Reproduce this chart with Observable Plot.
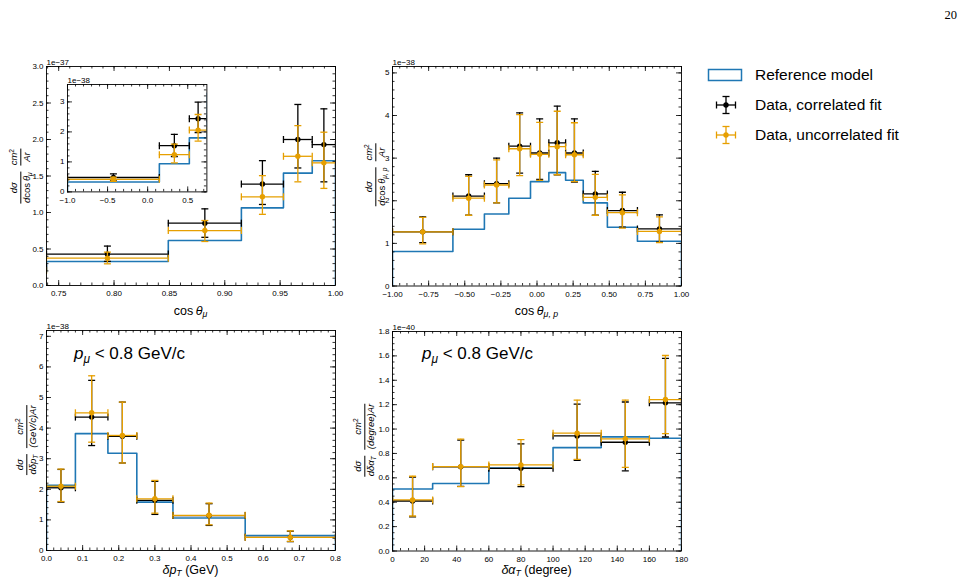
<!DOCTYPE html>
<html>
<head>
<meta charset="utf-8">
<script src="https://cdn.jsdelivr.net/npm/d3@7"></script>
<script src="https://cdn.jsdelivr.net/npm/@observablehq/plot@0.6"></script>
<style>
  html, body { margin: 0; padding: 0; background: #fff; }
  #fig { position: relative; width: 973px; height: 586px; overflow: hidden;
         font-family: "Liberation Sans", Arial, Helvetica, sans-serif; color: #000; }
  #fig svg { position: absolute; }
  .lbl { position: absolute; white-space: nowrap; line-height: 1; }
  .ctr { transform: translate(-50%, -50%); }
  .rot { position: absolute; white-space: nowrap; display: flex; align-items: center; width: max-content;
         transform: translate(-50%, -50%) rotate(-90deg); }
  .frac { display: inline-flex; flex: none; flex-direction: column; align-items: center; margin: 0 3px;
          font-size: 9.5px; line-height: 1.1; }
  .frac > span { flex: none; white-space: nowrap; padding: 0 0.5px; }
  .frac .bar { align-self: stretch; border-top: 0.9px solid #000; margin: 0.5px 0 1px 0; padding: 0; }
  sub { font-size: 0.7em; vertical-align: -0.3em; line-height: 0; }
  sup { font-size: 0.7em; vertical-align: 0.5em; line-height: 0; }
  .leg { position: absolute; left: 755px; font-size: 15.5px; line-height: 1; transform: translateY(-50%); white-space: nowrap; }
  .page { position: absolute; font-family: "Liberation Serif", "DejaVu Serif", serif; font-size: 12.5px; }
</style>
</head>
<body>
<div id="fig"></div>
<script>
// ---- cos θμ, units of 1e-38 cm²/Ar ----
const cosMuEdges    = [-1, 0.146, 0.52, 0.739, 0.849, 0.915, 0.953, 0.979, 1.0];
const cosMuModel    = [0.33, 0.94, 1.80, 3.29, 6.16, 10.64, 15.39, 17.08];
const cosMuCorr     = [0.48, 1.54, 2.44, 4.30, 8.54, 13.90, 20.00, 19.30];
const cosMuCorrLo   = [0.09, 0.36, 0.46, 1.00, 1.94, 2.80, 3.90, 5.10];
const cosMuCorrHi   = [0.12, 0.38, 0.55, 1.10, 1.96, 3.20, 4.80, 4.90];
const cosMuUnc      = [0.42, 1.24, 2.06, 3.74, 7.53, 12.15, 17.70, 16.80];
const cosMuUncLo    = [0.07, 0.27, 0.37, 0.77, 1.50, 2.40, 3.50, 3.50];
const cosMuUncHi    = [0.07, 0.35, 0.52, 0.83, 1.37, 2.90, 4.20, 4.20];

// ---- cos θμ,p, units of 1e-38 cm²/Ar ----
const cosMuPEdges   = [-1, -0.582, -0.364, -0.195, -0.045, 0.082, 0.198, 0.32, 0.487, 0.695, 1.0];
const cosMuPModel   = [0.81, 1.33, 1.69, 2.06, 2.45, 2.66, 2.48, 1.95, 1.38, 1.05];
const cosMuPCorr    = [1.27, 2.11, 2.40, 3.28, 3.12, 3.36, 3.12, 2.16, 1.77, 1.34];
const cosMuPCorrLo  = [0.25, 0.45, 0.45, 0.63, 0.62, 0.75, 0.68, 0.50, 0.39, 0.31];
const cosMuPCorrHi  = [0.35, 0.50, 0.60, 0.78, 0.80, 0.86, 0.80, 0.53, 0.43, 0.33];
const cosMuPUnc     = [1.27, 2.06, 2.37, 3.22, 3.09, 3.27, 3.08, 2.08, 1.72, 1.28];
const cosMuPUncLo   = [0.28, 0.40, 0.42, 0.63, 0.61, 0.66, 0.63, 0.42, 0.36, 0.26];
const cosMuPUncHi   = [0.34, 0.51, 0.59, 0.80, 0.75, 0.83, 0.75, 0.54, 0.42, 0.34];

// ---- δpT (GeV), units of 1e-38 cm²/(GeV/c)Ar ----
const dptEdges      = [0, 0.08, 0.17, 0.25, 0.35, 0.55, 0.8];
const dptModel      = [2.13, 3.82, 3.18, 1.58, 1.06, 0.49];
const dptCorr       = [2.05, 4.36, 3.73, 1.64, 1.14, 0.43];
const dptCorrLo     = [0.47, 0.93, 0.87, 0.46, 0.32, 0.14];
const dptCorrHi     = [0.60, 1.20, 1.12, 0.62, 0.39, 0.20];
const dptUnc        = [2.10, 4.50, 3.76, 1.69, 1.15, 0.43];
const dptUncLo      = [0.50, 0.96, 0.90, 0.47, 0.31, 0.13];
const dptUncHi      = [0.56, 1.21, 1.09, 0.60, 0.40, 0.21];

// ---- δαT (degree), units of 1e-40 cm²/(degree)Ar ----
const datEdges      = [0, 25, 60, 100, 130, 160, 180];
const datModel      = [0.509, 0.553, 0.681, 0.848, 0.936, 0.925];
const datCorr       = [0.410, 0.690, 0.678, 0.944, 0.892, 1.215];
const datCorrLo     = [0.130, 0.160, 0.150, 0.200, 0.235, 0.280];
const datCorrHi     = [0.197, 0.220, 0.200, 0.260, 0.330, 0.365];
const datUnc        = [0.419, 0.692, 0.706, 0.966, 0.920, 1.242];
const datUncLo      = [0.132, 0.164, 0.164, 0.214, 0.235, 0.279];
const datUncHi      = [0.194, 0.225, 0.208, 0.271, 0.317, 0.361];

const legendLabels = ["Reference model", "Data, correlated fit", "Data, uncorrelated fit"];

const BLUE = "#1f77b4", ORANGE = "#e69f00", BLACK = "#000000";
const FONT = '"Liberation Sans", Arial, Helvetica, sans-serif';
const fig = document.getElementById("fig");

const minus = s => s.replace("-", "\u2212");
const seq = (a, b, s) => d3.range(0, Math.floor((b - a) / s + 1e-9) + 1).map(i => +(a + i * s).toFixed(6));

function binned(edges, values, lo, hi) {
  return values.map((v, i) => ({
    x0: edges[i], x1: edges[i + 1], xc: (edges[i] + edges[i + 1]) / 2,
    v, lo: v - lo[i], hi: v + hi[i]
  }));
}

// outline of a step histogram, closed down to zero at both ends
function stepOutline(edges, values) {
  const pts = [{x: edges[0], y: 0}];
  values.forEach((v, i) => pts.push({x: edges[i], y: v}));
  pts.push({x: edges[edges.length - 1], y: values[values.length - 1]});
  pts.push({x: edges[edges.length - 1], y: 0});
  return pts;
}

const capH = {draw(ctx, size) { const r = Math.sqrt(size / Math.PI); ctx.moveTo(-r, 0); ctx.lineTo(r, 0); }};
const capV = {draw(ctx, size) { const r = Math.sqrt(size / Math.PI); ctx.moveTo(0, -r); ctx.lineTo(0, r); }};

function errorMarks(rows, color) {
  const s = {stroke: color, strokeWidth: 1.3, clip: true};
  const c = {...s, fill: "none", r: 3.5};
  return [
    Plot.ruleY(rows, {y: "v", x1: "x0", x2: "x1", ...s}),
    Plot.ruleX(rows, {x: "xc", y1: "lo", y2: "hi", ...s}),
    Plot.dot(rows, {x: "xc", y: "hi", symbol: capH, ...c}),
    Plot.dot(rows, {x: "xc", y: "lo", symbol: capH, ...c}),
    Plot.dot(rows, {x: "x0", y: "v", symbol: capV, ...c}),
    Plot.dot(rows, {x: "x1", y: "v", symbol: capV, ...c}),
    Plot.dot(rows, {x: "xc", y: "v", r: 2.7, fill: color, stroke: "none", clip: true})
  ];
}

function panel(cfg) {
  const {left, top, w, h, xDomain, yDomain, xMajor, xMinor, yMajor, yMinor, xFmt, yFmt,
         edges, model, corr, unc, offset, white} = cfg;
  const m = {l: 36, r: 8, t: 14, b: 18};
  const tk = {stroke: BLACK, strokeWidth: 0.8};
  const marks = [];
  if (white) marks.push(Plot.frame({fill: "white", stroke: "none"}));
  marks.push(
    Plot.line(stepOutline(edges, model), {x: "x", y: "y", curve: "step-after", stroke: BLUE, strokeWidth: 1.6, clip: true}),
    ...errorMarks(corr, BLACK),
    ...errorMarks(unc, ORANGE),
    // inward major and minor ticks on all four sides
    Plot.tickX(xMajor, {insetTop: h - 5, ...tk}),
    Plot.tickX(xMajor, {insetBottom: h - 5, ...tk}),
    Plot.tickX(xMinor, {insetTop: h - 2.5, ...tk}),
    Plot.tickX(xMinor, {insetBottom: h - 2.5, ...tk}),
    Plot.tickY(yMajor, {insetRight: w - 5, ...tk}),
    Plot.tickY(yMajor, {insetLeft: w - 5, ...tk}),
    Plot.tickY(yMinor, {insetRight: w - 2.5, ...tk}),
    Plot.tickY(yMinor, {insetLeft: w - 2.5, ...tk}),
    Plot.frame({stroke: BLACK, strokeWidth: 0.9}),
    Plot.axisX(xMajor, {tickSize: 0, tickPadding: 5, tickFormat: xFmt, label: null}),
    Plot.axisY(yMajor, {tickSize: 0, tickPadding: 3, tickFormat: yFmt, label: null}),
    Plot.text([offset], {text: d => d, frameAnchor: "top-left", lineAnchor: "bottom", textAnchor: "start", dy: -1.5, fontSize: 8})
  );
  const chart = Plot.plot({
    width: w + m.l + m.r, height: h + m.t + m.b,
    marginLeft: m.l, marginRight: m.r, marginTop: m.t, marginBottom: m.b,
    x: {domain: xDomain}, y: {domain: yDomain},
    style: {fontFamily: FONT, fontSize: "8px", background: "transparent", overflow: "visible", color: "#000"},
    marks
  });
  chart.style.left = (left - m.l) + "px";
  chart.style.top = (top - m.t) + "px";
  fig.appendChild(chart);
}

const f1 = d => minus(d.toFixed(1));
const f2 = d => minus(d.toFixed(2));

const cosMu = {edges: cosMuEdges, model: cosMuModel,
  corr: binned(cosMuEdges, cosMuCorr, cosMuCorrLo, cosMuCorrHi),
  unc: binned(cosMuEdges, cosMuUnc, cosMuUncLo, cosMuUncHi)};

// cos θμ, forward region (axis in units of 1e-37)
panel({left: 46, top: 66, w: 289, h: 219, xDomain: [0.739, 1], yDomain: [0, 30],
  xMajor: seq(0.75, 1, 0.05), xMinor: seq(0.74, 1, 0.01),
  yMajor: seq(0, 30, 5), yMinor: seq(0, 30, 1),
  xFmt: f2, yFmt: d => (d / 10).toFixed(1), offset: "1e\u221237", ...cosMu});

// cos θμ, full range inset
panel({left: 67.3, top: 84.3, w: 139.4, h: 107.4, xDomain: [-1, 0.739], yDomain: [0, 3.58],
  xMajor: seq(-1, 0.5, 0.5), xMinor: seq(-1, 0.7, 0.1),
  yMajor: seq(0, 3, 1), yMinor: seq(0, 3.58, 0.2),
  xFmt: f1, yFmt: d => String(d), offset: "1e\u221238", white: true, ...cosMu});

// cos θμ,p
panel({left: 392, top: 66, w: 289, h: 219.5, xDomain: [-1, 1], yDomain: [0, 5.15],
  xMajor: seq(-1, 1, 0.25), xMinor: seq(-1, 1, 0.05),
  yMajor: seq(0, 5, 1), yMinor: seq(0, 5.15, 0.2),
  xFmt: f2, yFmt: d => String(d), offset: "1e\u221238",
  edges: cosMuPEdges, model: cosMuPModel,
  corr: binned(cosMuPEdges, cosMuPCorr, cosMuPCorrLo, cosMuPCorrHi),
  unc: binned(cosMuPEdges, cosMuPUnc, cosMuPUncLo, cosMuPUncHi)});

// δpT
panel({left: 46, top: 330, w: 289, h: 220, xDomain: [0, 0.8], yDomain: [0, 7.19],
  xMajor: seq(0, 0.8, 0.1), xMinor: seq(0, 0.8, 0.02),
  yMajor: seq(0, 7, 1), yMinor: seq(0, 7.19, 0.2),
  xFmt: f1, yFmt: d => String(d), offset: "1e\u221238",
  edges: dptEdges, model: dptModel,
  corr: binned(dptEdges, dptCorr, dptCorrLo, dptCorrHi),
  unc: binned(dptEdges, dptUnc, dptUncLo, dptUncHi)});

// δαT
panel({left: 392, top: 330.5, w: 289, h: 219.5, xDomain: [0, 180], yDomain: [0, 1.8],
  xMajor: seq(0, 180, 20), xMinor: seq(0, 180, 5),
  yMajor: seq(0, 1.8, 0.2), yMinor: seq(0, 1.8, 0.05),
  xFmt: d => String(d), yFmt: f1, offset: "1e\u221240",
  edges: datEdges, model: datModel,
  corr: binned(datEdges, datCorr, datCorrLo, datCorrHi),
  unc: binned(datEdges, datUnc, datUncLo, datUncHi)});

// ---- text: axis titles, y labels, annotations ----
function addHTML(html, cls, x, y, extra = {}) {
  const d = document.createElement("div");
  d.className = cls;
  d.innerHTML = html;
  d.style.left = x + "px";
  d.style.top = y + "px";
  Object.assign(d.style, extra);
  fig.appendChild(d);
  return d;
}
const frac = (n, d) => `<span class="frac"><span>${n}</span><span class="bar"></span><span>${d}</span></span>`;
const ds = "<i>d\u03c3</i>";
const cm2 = "<i>cm</i><sup>2</sup>";

addHTML("cos&#8201;<i>\u03b8</i><sub><i>\u03bc</i></sub>", "lbl ctr", 190.5, 311, {fontSize: "12.5px"});
addHTML("cos&#8201;<i>\u03b8</i><sub><i>\u03bc, p</i></sub>", "lbl ctr", 536.5, 311, {fontSize: "12.5px"});
addHTML("<i>\u03b4p</i><sub><i>T</i></sub> (GeV)", "lbl ctr", 190.5, 570, {fontSize: "12.5px"});
addHTML("<i>\u03b4\u03b1</i><sub><i>T</i></sub> (degree)", "lbl ctr", 536.5, 570, {fontSize: "12.5px"});

addHTML(frac(ds, "<i>d</i>cos&#8201;<i>\u03b8</i><sub><i>\u03bc</i></sub>") + frac(cm2, "<i>Ar</i>"), "rot", 21, 176);
addHTML(frac(ds, "<i>d</i>cos&#8201;<i>\u03b8</i><sub><i>\u03bc, p</i></sub>") + frac(cm2, "<i>Ar</i>"), "rot", 376, 175);
addHTML(frac(ds, "<i>d\u03b4p</i><sub><i>T</i></sub>") + frac(cm2, "<i>(GeV/c)Ar</i>"), "rot", 27, 440);
addHTML(frac(ds, "<i>d\u03b4\u03b1</i><sub><i>T</i></sub>") + frac(cm2, "<i>(degree)Ar</i>"), "rot", 365, 440);

const pcut = "<i>p</i><sub><i>\u03bc</i></sub> &lt; 0.8 GeV/c";
addHTML(pcut, "lbl", 74, 345, {fontSize: "17px"});
addHTML(pcut, "lbl", 422, 345, {fontSize: "17px"});

addHTML("20", "page", 944.5, 8);

// ---- legend ----
const leg = d3.select(fig).append("svg").attr("width", 50).attr("height", 90)
  .style("left", "700px").style("top", "60px");
leg.append("rect").attr("x", 8.5).attr("y", 9.5).attr("width", 33).attr("height", 11)
  .attr("fill", "none").attr("stroke", BLUE).attr("stroke-width", 1.5);
[[BLACK, 45], [ORANGE, 75]].forEach(([c, cy]) => {
  const g = leg.append("g").attr("stroke", c).attr("stroke-width", 1.3).attr("fill", "none");
  g.append("line").attr("x1", 16.5).attr("x2", 35.5).attr("y1", cy).attr("y2", cy);
  g.append("line").attr("x1", 26).attr("x2", 26).attr("y1", cy - 8.5).attr("y2", cy + 8.5);
  g.append("line").attr("x1", 22.5).attr("x2", 29.5).attr("y1", cy - 8.5).attr("y2", cy - 8.5);
  g.append("line").attr("x1", 22.5).attr("x2", 29.5).attr("y1", cy + 8.5).attr("y2", cy + 8.5);
  g.append("line").attr("x1", 16.5).attr("x2", 16.5).attr("y1", cy - 3.5).attr("y2", cy + 3.5);
  g.append("line").attr("x1", 35.5).attr("x2", 35.5).attr("y1", cy - 3.5).attr("y2", cy + 3.5);
  leg.append("circle").attr("cx", 26).attr("cy", cy).attr("r", 2.7).attr("fill", c);
});
legendLabels.forEach((t, i) => addHTML(t, "leg", 755, 75 + 30 * i));
</script>
</body>
</html>
